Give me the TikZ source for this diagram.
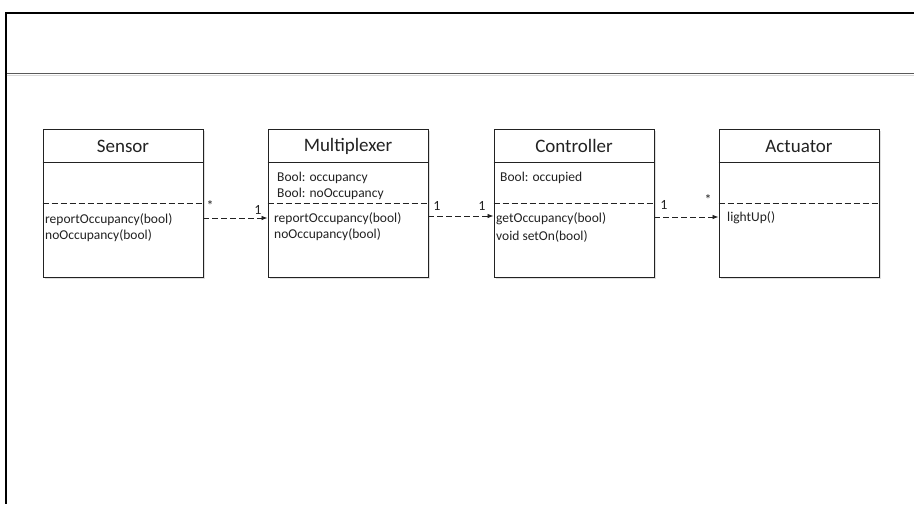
\documentclass[tikz,border=0pt]{standalone}
\usepackage{fontspec}
\setmainfont{Carlito}
\usetikzlibrary{arrows.meta,shadows}
\definecolor{ink}{HTML}{222222}
\tikzset{
  classbox/.style={draw=ink, line width=0.9pt, fill=white, minimum width=160pt, minimum height=148pt,
    inner sep=0pt, drop shadow={shadow xshift=1.5pt, shadow yshift=-2pt, opacity=0.25}},
  title/.style={font=\fontsize{19}{22}\selectfont, text=ink, inner sep=0pt},
  member/.style={font=\fontsize{13.5}{16}\selectfont, text=ink, anchor=west, inner sep=0pt},
  mult/.style={font=\fontsize{14}{16}\selectfont, text=ink, inner sep=0pt},
  divider/.style={draw=ink, line width=0.8pt, dash pattern=on 6pt off 3pt},
  sep/.style={draw=ink, line width=0.8pt},
  conn/.style={draw=ink, line width=0.8pt, dash pattern=on 6pt off 3pt, -{Latex[length=6pt,width=4.5pt]}}
}
\begin{document}
\begin{tikzpicture}[x=1pt,y=-1pt]
  \useasboundingbox (0,0) rectangle (914,504);
  % page frame and header rule
  \draw[line width=2pt, black] (914,12.5) -- (5.5,12.5) -- (5.5,504);
  \draw[line width=0.8pt, gray!70!black] (6.5,73.5) -- (914,73.5);
  \draw[line width=0.6pt, gray!30] (6.5,75) -- (914,75);

  % class boxes
  \node[classbox] (sensor) at (123,203) {};
  \node[classbox] (mux)    at (348,203) {};
  \node[classbox] (ctrl)   at (574,203) {};
  \node[classbox] (act)    at (799,203) {};

  % compartments: solid line under the name, dashed line above the operations
  \foreach \b in {sensor,mux,ctrl,act}{
    \draw[sep] ([yshift=-34pt]\b.north west) -- ([yshift=-34pt]\b.north east);
    \draw[divider] (\b.west) -- (\b.east);
  }

  % class names
  \node[title] (sensorT) at (123,146) {Sensor};
  \node[title] (muxT)    at (348,146) {Multiplexer};
  \node[title] (ctrlT)   at (574,146) {Controller};
  \node[title] (actT)    at (799,146) {Actuator};

  % attributes
  \node[member] (muxA1)  at (277,178) {Bool: occupancy};
  \node[member] (muxA2)  at (277,194) {Bool: noOccupancy};
  \node[member] (ctrlA1) at (500,178) {Bool: occupied};

  % operations
  \node[member] (sensorO1) at (45,220)  {reportOccupancy(bool)};
  \node[member] (sensorO2) at (45,236)  {noOccupancy(bool)};
  \node[member] (muxO1)    at (274,219) {reportOccupancy(bool)};
  \node[member] (muxO2)    at (274,235) {noOccupancy(bool)};
  \node[member] (ctrlO1)   at (496,219) {getOccupancy(bool)};
  \node[member] (ctrlO2)   at (496,236) {void setOn(bool)};
  \node[member] (actO1)    at (727,218) {lightUp()};

  % dependencies
  \draw[conn] ([yshift=-15pt]sensor.east) -- ([yshift=-15pt]mux.west);
  \draw[conn] ([yshift=-13pt]mux.east) -- ([yshift=-13pt]ctrl.west);
  \draw[conn] ([yshift=-14pt]ctrl.east) -- ([yshift=-14pt]act.west);

  % multiplicities
  \node[mult] (m1) at (210,206) {*};
  \node[mult] (m2) at (258,210) {1};
  \node[mult] (m3) at (437,206) {1};
  \node[mult] (m4) at (482,206) {1};
  \node[mult] (m5) at (664,205) {1};
  \node[mult] (m6) at (708,200) {*};
\end{tikzpicture}
\end{document}
